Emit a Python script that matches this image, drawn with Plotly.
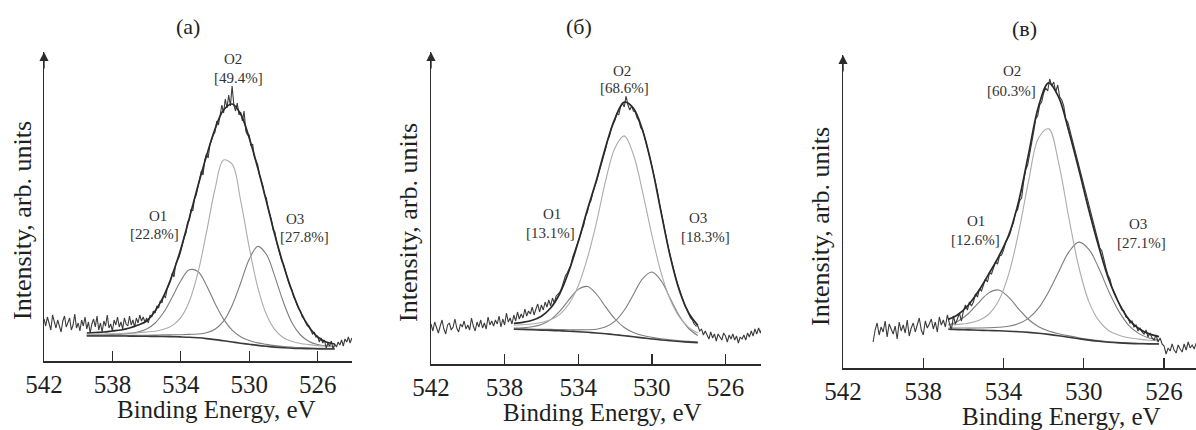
import numpy as np
import plotly.graph_objects as go

FIG_W, FIG_H = 1196, 430
SERIF = "Liberation Serif, Times New Roman, serif"

# ---------------- data ----------------
TICKS = [542, 538, 534, 530, 526]
PANEL_TITLES = ["(а)", "(б)", "(в)"]
X_TITLE = "Binding Energy, eV"
Y_TITLE = "Intensity, arb. units"
PEAK_NAMES = ["O1", "O2", "O3"]

# Panel (а)
A_RAW_START, RAW_STEP = 542.0, 0.1
A_RAW = [
    42, 35, 44, 37, 31, 46, 39, 33, 41, 36, 29, 40, 45, 34, 38, 43, 31, 36, 47, 33,
    38, 30, 41, 35, 44, 32, 39, 28, 37, 42, 34, 45, 31, 38, 29, 40, 35, 46, 33, 37,
    30, 41, 36, 44, 34, 39, 32, 43, 37, 35, 45, 36, 41, 34, 43, 38, 46, 40, 44, 39,
    43, 38, 46, 44, 50, 48, 55, 53, 60, 58, 66, 63, 72, 77, 80, 88, 84, 97, 101, 104,
    110, 119, 124, 128, 139, 141, 152, 150, 162, 166, 173, 183, 190, 186, 201, 207, 203, 216, 222, 226,
    229, 240, 236, 245, 256, 248, 262, 253, 266, 255, 275, 256, 250, 258, 246, 249, 240, 250, 230, 226,
    226, 215, 217, 204, 199, 196, 186, 181, 175, 166, 163, 153, 147, 141, 131, 129, 119, 113, 108, 100,
    97, 90, 85, 79, 74, 71, 64, 61, 56, 52, 50, 44, 42, 39, 35, 35, 30, 27, 29, 24,
    25, 19, 23, 18, 21, 13, 18, 15, 20, 12, 17, 14, 19, 16, 21, 15, 22, 19, 24, 18,
    23,
]
A_FIT_START, FIT_STEP = 539.5, 0.5
A_BASE = [25, 25, 25, 25, 25, 24.9, 24.8, 24.7, 24.6, 24.5, 24.3, 24.1, 23.8, 23.2, 22.4,
          21.4, 20.2, 19.0, 17.8, 16.7, 15.6, 14.7, 13.9, 13.3, 12.8, 12.5, 12.3, 12.1, 12.0, 12.0]
A_O1 = [25.9, 26.1, 26.3, 26.6, 26.9, 27.6, 28.9, 31.9, 38.0, 48.7, 63.9, 80.3, 91.2, 89.5, 75.6,
        57.6, 41.9, 30.9, 24.3, 20.4, 18.1, 16.6, 15.4, 14.5, 13.9, 13.4, 13.1, 12.8, 12.6, 12.5]
A_O2 = [26.5, 26.7, 26.9, 27.2, 27.5, 27.9, 28.3, 29.0, 29.8, 31.7, 35.4, 43.3, 59.7, 88.1, 128.6,
        172.0, 200.9, 196.8, 160.4, 113.6, 73.7, 46.7, 31.3, 23.3, 19.6, 17.5, 16.4, 15.4, 14.9, 14.4]
A_O3 = [25.5, 25.6, 25.6, 25.7, 25.8, 25.8, 25.8, 25.8, 25.9, 26.1, 26.1, 26.3, 26.6, 27.0, 28.3,
        31.8, 39.9, 55.6, 78.0, 101.7, 114.6, 106.7, 84.4, 58.8, 38.3, 26.0, 19.6, 16.5, 15.1, 14.4]
A_ENV = [28, 28.5, 29, 30, 31, 33, 36, 40, 50, 65, 86, 112, 143, 175, 205,
         232, 251, 257, 247, 223, 193, 160, 126, 96, 70, 49, 34, 24, 19, 17]
A_SHARES = ["[22.8%]", "[49.4%]", "[27.8%]"]

# Panel (б)
B_RAW_START = 542.0
B_RAW = [
    40, 33, 42, 36, 31, 38, 44, 35, 30, 39, 41, 34, 37, 45, 36, 32, 40, 37, 43, 35,
    39, 34, 46, 38, 33, 42, 37, 44, 36, 41, 35, 47, 39, 43, 38, 44, 40, 48, 37, 45,
    39, 51, 42, 46, 40, 49, 43, 52, 45, 50, 46, 55, 48, 53, 50, 57, 49, 55, 60, 52,
    59, 54, 62, 57, 64, 58, 66, 61, 68, 70, 72, 76, 82, 88, 91, 95, 99, 107, 112, 118,
    121, 128, 134, 139, 148, 152, 160, 164, 172, 177, 183, 190, 196, 203, 210, 216, 224, 228, 236, 240,
    244, 251, 249, 257, 261, 257, 268, 259, 254, 258, 253, 252, 246, 243, 236, 234, 226, 221, 213, 206,
    198, 191, 181, 173, 162, 152, 143, 134, 126, 116, 108, 100, 93, 86, 80, 74, 68, 63, 58, 55,
    51, 46, 44, 40, 38, 38, 33, 35, 29, 33, 29, 25, 32, 26, 30, 23, 30, 27, 24, 31,
    28, 22, 29, 25, 30, 24, 28, 21, 27, 25, 29, 24, 31, 27, 33, 28, 35, 30, 36, 31,
    37,
]
B_FIT_START = 537.5
B_BASE = [34.7, 34.5, 34.2, 33.9, 33.6, 33.2, 32.8, 32.3, 31.7, 31.0, 30.2, 29.3, 28.3, 27.2,
          26.1, 25.0, 24.0, 23.2, 22.5, 21.9, 21.4]
B_O1 = [36.0, 36.3, 37.2, 39.4, 44.4, 52.9, 64.4, 74.6, 77.5, 69.5, 56.8, 45.0, 36.5, 31.5,
        28.5, 26.6, 25.2, 24.2, 23.3, 22.6, 22.0]
B_O2 = [38.8, 39.3, 40.0, 41.5, 44.2, 49.6, 60.2, 78.1, 106.1, 142.2, 184.2, 216.3, 228.1, 209.2,
        171.7, 129.0, 91.4, 64.2, 46.9, 36.7, 31.0]
B_O3 = [35.2, 35.1, 34.9, 34.7, 34.6, 34.4, 34.2, 34.1, 34.2, 34.8, 37.2, 42.9, 53.8, 69.5,
        85.4, 92.0, 83.3, 65.5, 48.0, 35.5, 28.4]
B_ENV = [40.6, 41.7, 43.7, 47.8, 56.0, 70.5, 93.2, 122.2, 154.4, 184.5, 217.8, 245.6, 261.8, 255.8,
         233.4, 197.6, 151.9, 107.5, 73.2, 51.0, 38.6]
B_SHARES = ["[13.1%]", "[68.6%]", "[18.3%]"]

# Panel (в)
C_RAW_START = 540.5
C_RAW = [
    26, 38, 45, 33, 41, 36, 47, 31, 44, 39, 34, 42, 29, 46, 37, 43, 35, 48, 32, 40,
    45, 36, 42, 50, 38, 33, 47, 40, 44, 49, 39, 46, 36, 51, 43, 48, 41, 53, 45, 38,
    52, 44, 49, 55, 47, 57, 63, 58, 66, 62, 66, 74, 71, 79, 77, 83, 89, 86, 95, 94,
    101, 106, 104, 112, 113, 118, 126, 129, 133, 140, 146, 156, 158, 167, 170, 186, 198, 203, 214, 222,
    236, 249, 252, 263, 266, 275, 280, 277, 289, 282, 286, 276, 283, 271, 268, 262, 249, 246, 238, 230,
    222, 213, 207, 197, 192, 183, 174, 165, 160, 150, 143, 134, 128, 120, 117, 107, 100, 93, 89, 81,
    77, 72, 67, 63, 58, 57, 51, 50, 45, 47, 41, 43, 37, 40, 36, 34, 38, 31, 35, 30,
    28, 33, 26, 30, 24, 22, 14, 20, 17, 24, 18, 15, 23, 19, 16, 24, 18, 26, 20, 23,
    19, 25,
]
C_FIT_START = 536.75
C_BASE = [38.7, 38.4, 38.1, 37.8, 37.5, 37.2, 36.8, 36.3, 35.6, 34.7, 33.6, 32.3, 30.8, 29.3,
          27.9, 26.7, 25.8, 25.1, 24.6, 24.3, 24.1, 24.0]
C_O1 = [43.0, 47.0, 54.5, 65.1, 74.9, 78.0, 70.8, 59.1, 48.5, 41.2, 36.9, 34.2, 32.1, 30.3,
        28.7, 27.4, 26.3, 25.6, 25.0, 24.6, 24.4, 24.3]
C_O2 = [43.0, 43.6, 44.8, 47.4, 53.5, 66.9, 93.4, 135.5, 187.2, 230.2, 239.1, 204.7, 150.6, 101.1,
        66.4, 47.3, 37.2, 32.8, 30.2, 28.9, 27.8, 27.1]
C_O3 = [40.0, 40.0, 39.9, 40.0, 40.2, 40.7, 41.8, 44.4, 49.9, 60.1, 76.3, 96.3, 115.9, 125.9,
        118.7, 99.7, 76.3, 56.6, 42.4, 34.4, 30.1, 28.0]
C_ENV = [48.6, 53.8, 63.0, 76.9, 93.6, 111.2, 132.4, 166.4, 214.4, 262.1, 285.1, 270.6, 237.0, 198.7,
         158.0, 121.0, 88.2, 64.8, 48.4, 39.3, 34.1, 31.4]
C_SHARES = ["[12.6%]", "[60.3%]", "[27.1%]"]


def grid(start, step, n):
    return np.round(start - step * np.arange(n), 3)


# ---------------- layout geometry (pixels) ----------------
PANELS = [
    dict(raw=(A_RAW_START, A_RAW), fit=(A_FIT_START, A_BASE, A_O1, A_O2, A_O3, A_ENV), shares=A_SHARES,
         xpx=(44, 352), ypx=(361, 52), xmin=523.99,
         title=(188, 27), xt=(216, 409), yt=(23, 221),
         name_pos=[(158, 216), (233, 59), (295, 219)], share_pos=[(154, 234), (238, 78), (304, 237)]),
    dict(raw=(B_RAW_START, B_RAW), fit=(B_FIT_START, B_BASE, B_O1, B_O2, B_O3, B_ENV), shares=B_SHARES,
         xpx=(431, 761), ypx=(364, 52), xmin=524.07,
         title=(579, 27), xt=(602, 412), yt=(408, 223),
         name_pos=[(552, 214), (622, 71), (698, 218)], share_pos=[(550, 233), (624, 88), (705, 237)]),
    dict(raw=(C_RAW_START, C_RAW), fit=(C_FIT_START, C_BASE, C_O1, C_O2, C_O3, C_ENV), shares=C_SHARES,
         xpx=(843, 1196), ypx=(368, 55), xmin=524.41,
         title=(1024, 28), xt=(1061, 416), yt=(820, 227),
         name_pos=[(976, 221), (1012, 71), (1138, 224)], share_pos=[(975, 240), (1011, 91), (1141, 243)]),
]

DARK = "#2b2b2b"
fig = go.Figure()
annotations = []
layout_axes = {}


def px2paper(x, y):
    return x / FIG_W, 1 - y / FIG_H


def text_ann(pos, text, size, color="#1f1f1f", angle=0):
    tx, ty = px2paper(*pos)
    return dict(x=tx, y=ty, xref="paper", yref="paper", text=text, textangle=angle,
                xanchor="center", yanchor="middle", showarrow=False,
                font=dict(family=SERIF, size=size, color=color))


for i, p in enumerate(PANELS, start=1):
    xa = "x" if i == 1 else f"x{i}"
    ya = "y" if i == 1 else f"y{i}"
    rs, rv = p["raw"]
    fs, base, o1, o2, o3, env = p["fit"]
    xr = grid(rs, RAW_STEP, len(rv))
    xf = grid(fs, FIT_STEP, len(base))
    # components
    for vals, col in [(o1, "#7d7d7d"), (o3, "#7d7d7d"), (o2, "#ababab")]:
        fig.add_trace(go.Scatter(x=xf, y=vals, mode="lines", xaxis=xa, yaxis=ya,
                                 line=dict(color=col, width=1.1, shape="spline"), showlegend=False))
    fig.add_trace(go.Scatter(x=xf, y=base, mode="lines", xaxis=xa, yaxis=ya,
                             line=dict(color="#3a3a3a", width=1.6, shape="spline"), showlegend=False))
    fig.add_trace(go.Scatter(x=xr, y=rv, mode="lines", xaxis=xa, yaxis=ya,
                             line=dict(color="#3c3c3c", width=1.1), showlegend=False))
    fig.add_trace(go.Scatter(x=xf, y=env, mode="lines", xaxis=xa, yaxis=ya,
                             line=dict(color="#2a2a2a", width=1.7, shape="spline"), showlegend=False))

    x0, x1 = p["xpx"]
    yb, yt_ = p["ypx"]
    height = yb - yt_
    layout_axes["xaxis" if i == 1 else f"xaxis{i}"] = dict(
        domain=[x0 / FIG_W, x1 / FIG_W], range=[542, p["xmin"]], anchor=ya, automargin=False,
        showline=True, linecolor=DARK, linewidth=1.5, showgrid=False, zeroline=False,
        ticks="inside", ticklen=10, tickwidth=1.3, tickcolor=DARK, tickvals=TICKS,
        ticktext=[str(t) for t in TICKS],
        tickfont=dict(family=SERIF, size=25, color="#1f1f1f"))
    layout_axes["yaxis" if i == 1 else f"yaxis{i}"] = dict(
        domain=[1 - yb / FIG_H, 1 - yt_ / FIG_H], range=[0, height], anchor=xa, automargin=False,
        showline=True, linecolor=DARK, linewidth=1.5, showgrid=False, zeroline=False,
        showticklabels=False, ticks="")

    # arrow on y axis
    annotations.append(dict(x=542, y=height, xref=xa, yref=ya, ax=0, ay=18, text="",
                            showarrow=True, arrowhead=2, arrowsize=1.3, arrowwidth=1.4,
                            arrowcolor=DARK))
    annotations.append(text_ann(p["title"], PANEL_TITLES[i - 1], 22))
    annotations.append(text_ann(p["xt"], X_TITLE, 25))
    annotations.append(text_ann(p["yt"], Y_TITLE, 26, angle=-90))
    for k in range(3):
        annotations.append(text_ann(p["name_pos"][k], PEAK_NAMES[k], 15, "#333333"))
        annotations.append(text_ann(p["share_pos"][k], p["shares"][k], 15, "#333333"))

fig.update_layout(
    width=FIG_W, height=FIG_H, autosize=False,
    margin=dict(l=0, r=0, t=0, b=0, autoexpand=False),
    paper_bgcolor="white", plot_bgcolor="white",
    showlegend=False, annotations=annotations, **layout_axes)

fig.write_html("out.html", config={"displayModeBar": False, "staticPlot": True},
               post_script="document.body.style.margin='0px';document.body.style.overflow='hidden';")
